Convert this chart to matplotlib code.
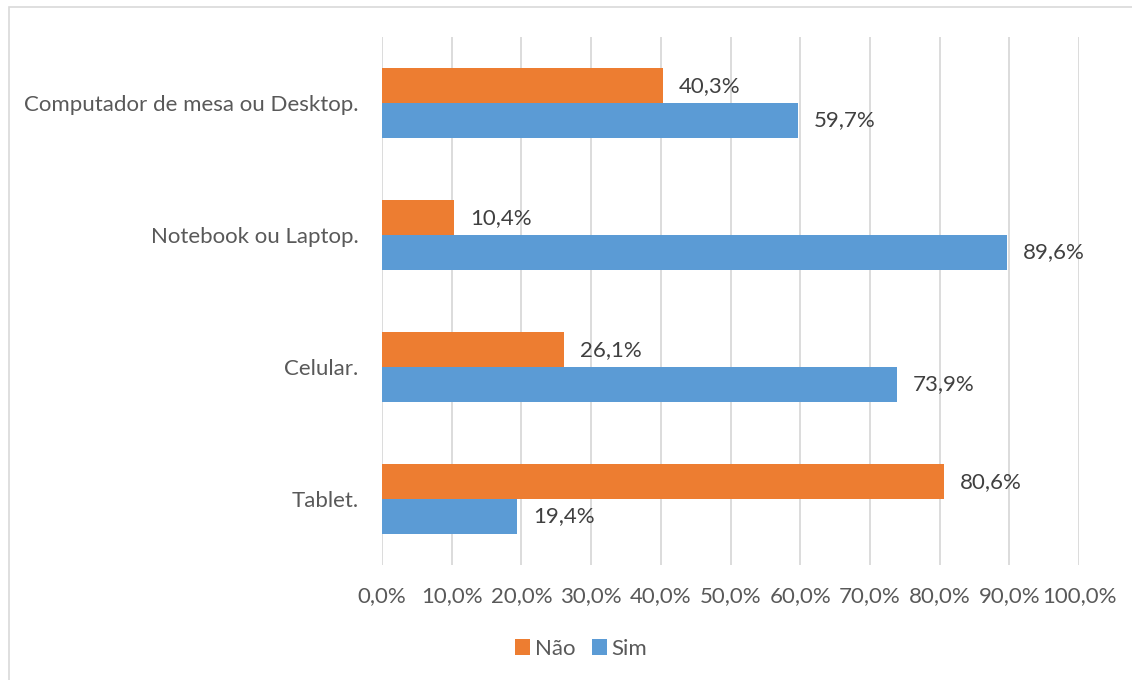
import matplotlib.pyplot as plt
from matplotlib.patches import Rectangle
import numpy as np

plt.rcParams['font.family'] = ['Lato', 'DejaVu Sans']

# data
categories = ['Computador de mesa ou Desktop.', 'Notebook ou Laptop.', 'Celular.', 'Tablet.']
nao = [40.3, 10.4, 26.1, 80.6]
sim = [59.7, 89.6, 73.9, 19.4]
xticks = np.arange(0, 101, 10)

ORANGE = '#ED7D31'
BLUE = '#5B9BD5'
TXT = '#595959'
FS = 16

fig = plt.figure(figsize=(11.32, 6.8), dpi=100)
ax = fig.add_axes([382 / 1132, 1 - 565 / 680, (1079 - 382) / 1132, (565 - 37) / 680])

# chart border (cut at right/bottom like the source)
fig.patches.append(Rectangle((8.5 / 1132, -0.1), 2, 1 - 7.5 / 680 + 0.1, transform=fig.transFigure,
                             fill=False, edgecolor='#D9D9D9', linewidth=1.2))

y = np.arange(len(categories))
h = 0.262
b1 = ax.barh(y - h / 2, nao, height=h, color=ORANGE, label='Não', zorder=3)
b2 = ax.barh(y + h / 2, sim, height=h, color=BLUE, label='Sim', zorder=3)

for bars, vals in [(b1, nao), (b2, sim)]:
    for bar, v in zip(bars, vals):
        ax.text(v + 2.3, bar.get_y() + bar.get_height() / 2, f'{v:.1f}%'.replace('.', ','),
                va='center', ha='left', fontsize=FS, color='#404040')

ax.set_xlim(0, 100)
ax.set_ylim(3.5, -0.5)
ax.set_xticks(xticks)
ax.set_xticklabels([f'{t:.1f}%'.replace('.', ',') for t in xticks], fontsize=FS, color=TXT)
ax.set_yticks(y)
ax.set_yticklabels(categories, fontsize=FS, color=TXT)
ax.tick_params(axis='y', length=0, pad=17)
ax.tick_params(axis='x', length=0, pad=15)
ax.grid(axis='x', color='#D9D9D9', linewidth=1.3, zorder=0)
for s in ax.spines.values():
    s.set_visible(False)

fig.legend(loc='center', bbox_to_anchor=(581 / 1132, 1 - 649 / 680), ncol=2, frameon=False,
           fontsize=FS, labelcolor=TXT, handlelength=0.7, handleheight=0.7,
           handletextpad=0.2, columnspacing=0.75)

plt.savefig('out.png', dpi=100)
